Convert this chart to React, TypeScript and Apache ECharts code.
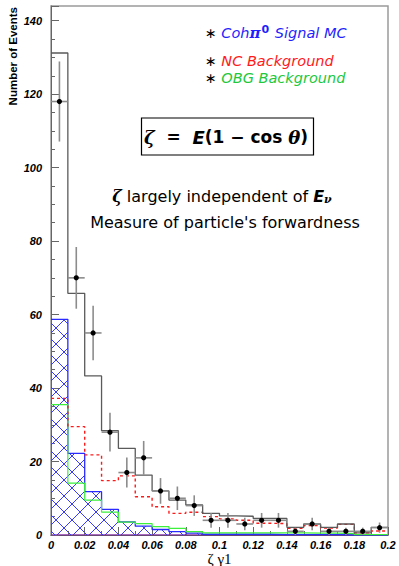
import React, { useEffect, useRef } from "react";
import * as echarts from "echarts";

// Bin edges of the zeta histogram (20 bins of 0.01)
const binEdges = [0, 0.01, 0.02, 0.03, 0.04, 0.05, 0.06, 0.07, 0.08, 0.09, 0.1, 0.11, 0.12, 0.13, 0.14, 0.15, 0.16, 0.17, 0.18, 0.19, 0.2];

// Data (black points with error bars)
const dataCounts = [118, 70, 55, 28, 17, 21, 12, 10, 8, 4, 4, 3, 4, 4, 1, 3, 1, 1, 1, 2];
const dataErrors = [10.9, 8.4, 7.4, 5.3, 4.1, 4.6, 3.5, 3.2, 2.8, 2, 2, 1.7, 2, 2, 1, 1.7, 1, 1, 1, 1.4];

// MC histograms
const totalMC = [131.2, 65.8, 43.3, 28.4, 23.6, 16.3, 12, 9.5, 8.2, 5.9, 5.2, 5.1, 4.5, 4.5, 2.1, 3, 2.1, 3, 0.6, 2.1];
const ncBackground = [37.2, 29.5, 21.8, 14.8, 16.1, 10.4, 7.7, 5.9, 6.2, 5, 4.4, 4, 3.2, 3.1, 1.8, 2.6, 1.9, 2.9, 0.6, 1.1];
const obgBackground = [35.5, 14.1, 9.5, 6.2, 3.5, 3.1, 2.3, 1.8, 0.9, 0.6, 0.6, 0.6, 0.6, 0.6, 0.6, 0.5, 0.5, 0.4, 0.1, 0.1];
const cohSignal = [58.7, 22.2, 11.8, 7, 3.6, 2.4, 1.5, 0.9, 0.5, 0.2, 0.2, 0.2, 0.2, 0.1, 0.1, 0.1, 0.1, 0, 0, 0];
const otherBackground = [0, 0, 0, 0, 0, 0, 0, 0, 0, 0, 0, 0, 0, 0, 0, 0, 0, 0, 0, 0];

const xTickLabels = ["0", "0.02", "0.04", "0.06", "0.08", "0.1", "0.12", "0.14", "0.16", "0.18", "0.2"];

function stepPoints(vals: number[]) {
  const pts: number[][] = vals.map((v, i) => [binEdges[i], v]);
  pts.push([binEdges[vals.length], vals[vals.length - 1]]);
  return pts;
}

const hatchSvg =
  "<svg xmlns='http://www.w3.org/2000/svg' width='16' height='16'>" +
  "<path d='M-1 -1L17 17M17 -1L-1 17' stroke='#3a3aff' stroke-width='1' fill='none'/></svg>";
const hatchUrl = "data:image/svg+xml;charset=utf-8," + encodeURIComponent(hatchSvg);

export default function App() {
  const ref = useRef<HTMLDivElement>(null);
  useEffect(() => {
    if (!ref.current) return;
    const chart = echarts.init(ref.current, undefined, { renderer: "svg" });
    const tickFont = {
      fontFamily: "Liberation Sans",
      fontStyle: "italic" as const,
      fontWeight: "bold" as const,
      fontSize: 11,
      color: "#000",
    };
    const option: any = {
      animation: false,
      backgroundColor: "#fff",
      grid: {
        left: 51,
        right: 11,
        top: 6,
        bottom: 31,
        outerBoundsMode: "none",
        containLabel: false,
        show: true,
        borderColor: "#9a9a9a",
        borderWidth: 1.5,
      },
      xAxis: {
        type: "value",
        min: 0,
        max: 0.2,
        interval: 0.02,
        axisLine: { show: true, onZero: false, lineStyle: { color: "#555", width: 1 } },
        axisTick: { show: true, inside: true, length: 8, lineStyle: { color: "#666" } },
        minorTick: { show: true, splitNumber: 2, length: 4, lineStyle: { color: "#666" } },
        splitLine: { show: false },
        axisLabel: {
          ...tickFont,
          margin: 4,
          formatter: (v: number) => xTickLabels[Math.round(v / 0.02)] ?? "",
        },
        name: "ζ γ1",
        nameLocation: "middle",
        nameGap: 16.5,
        nameMoveOverlap: false,
        nameTextStyle: {
          fontFamily: "Liberation Serif",
          fontSize: 15,
          color: "#000",
          verticalAlign: "top",
        },
      },
      yAxis: {
        type: "value",
        min: 0,
        max: 144,
        interval: 20,
        axisLine: { show: true, onZero: false, lineStyle: { color: "#666", width: 1 } },
        axisTick: { show: true, inside: true, length: 8, lineStyle: { color: "#666" } },
        minorTick: { show: true, splitNumber: 4, length: 4, lineStyle: { color: "#666" } },
        splitLine: { show: false },
        axisLabel: { ...tickFont, margin: 9, showMaxLabel: false },
      },
      graphic: [
        {
          type: "text",
          x: 13,
          y: 7,
          rotation: Math.PI / 2,
          style: {
            text: "Number of Events",
            fill: "#000",
            font: "bold 11.5px 'Liberation Sans'",
            align: "right",
            verticalAlign: "middle",
          },
        },
        {
          type: "text",
          x: 205,
          y: 33,
          style: {
            text: "{s|∗}{t| Coh}{p|π}{sup|0}{t| Signal MC}",
            align: "left",
            verticalAlign: "middle",
            rich: {
              s: { fontFamily: "DejaVu Sans", fontSize: 14, fill: "#000" },
              t: { fontFamily: "DejaVu Sans", fontStyle: "italic", fontSize: 14.5, fill: "#1f1fff" },
              p: { fontFamily: "DejaVu Serif", fontWeight: "bold", fontStyle: "italic", fontSize: 15, fill: "#1f1fff" },
              sup: { fontFamily: "DejaVu Sans", fontWeight: "bold", fontSize: 11, fill: "#1f1fff", verticalAlign: "top", padding: [0, 1, 8, 1] },
            },
          },
        },
        {
          type: "text",
          x: 205,
          y: 61,
          style: {
            text: "{s|∗}{t| NC Background}",
            align: "left",
            verticalAlign: "middle",
            rich: {
              s: { fontFamily: "DejaVu Sans", fontSize: 14, fill: "#000" },
              t: { fontFamily: "DejaVu Sans", fontStyle: "italic", fontSize: 14.5, fill: "#ff1a1a" },
            },
          },
        },
        {
          type: "text",
          x: 205,
          y: 78,
          style: {
            text: "{s|∗}{t| OBG Background}",
            align: "left",
            verticalAlign: "middle",
            rich: {
              s: { fontFamily: "DejaVu Sans", fontSize: 14, fill: "#000" },
              t: { fontFamily: "DejaVu Sans", fontStyle: "italic", fontSize: 14.5, fill: "#22c83c" },
            },
          },
        },
        {
          type: "rect",
          shape: { x: 141.5, y: 118, width: 172, height: 37 },
          style: { fill: "none", stroke: "#000", lineWidth: 1.2 },
        },
        {
          type: "text",
          x: 226,
          y: 137,
          style: {
            text: "{z|ζ}{n|  =  }{e|E}{n|(1 − cos }{z|θ}{n|)}",
            align: "center",
            verticalAlign: "middle",
            rich: {
              z: { fontFamily: "DejaVu Serif", fontStyle: "italic", fontWeight: "bold", fontSize: 18, fill: "#000" },
              e: { fontFamily: "DejaVu Sans", fontStyle: "italic", fontWeight: "bold", fontSize: 18, fill: "#000" },
              n: { fontFamily: "DejaVu Sans", fontWeight: "bold", fontSize: 17, fill: "#000" },
            },
          },
        },
        {
          type: "text",
          x: 222,
          y: 196,
          style: {
            text: "{z|ζ}{n| largely independent of }{e|E}{sub|ν}",
            align: "center",
            verticalAlign: "middle",
            rich: {
              z: { fontFamily: "DejaVu Serif", fontStyle: "italic", fontWeight: "bold", fontSize: 16, fill: "#000" },
              n: { fontFamily: "DejaVu Sans", fontSize: 16, fill: "#000" },
              e: { fontFamily: "DejaVu Sans", fontStyle: "italic", fontWeight: "bold", fontSize: 16, fill: "#000" },
              sub: { fontFamily: "DejaVu Serif", fontStyle: "italic", fontWeight: "bold", fontSize: 11, fill: "#000", verticalAlign: "bottom", padding: [6, 0, 0, 0] },
            },
          },
        },
        {
          type: "text",
          x: 225,
          y: 222,
          style: {
            text: "Measure of particle's forwardness",
            align: "center",
            verticalAlign: "middle",
            font: "16px 'DejaVu Sans'",
            fill: "#000",
          },
        },
      ],
      series: [
        {
          name: "Other",
          type: "line",
          step: "end",
          symbol: "none",
          data: stepPoints(otherBackground),
          lineStyle: { color: "#a020d0", width: 1.2 },
          z: 2,
        },
        {
          name: "Coh pi0 Signal MC",
          type: "line",
          step: "end",
          symbol: "none",
          data: stepPoints(cohSignal),
          lineStyle: { color: "#2a2aff", width: 1.3 },
          areaStyle: {
            origin: 0,
            opacity: 1,
            color: { image: hatchUrl, repeat: "repeat", imageWidth: 16, imageHeight: 16 },
          },
          z: 3,
        },
        {
          name: "OBG Background",
          type: "line",
          step: "end",
          symbol: "none",
          data: stepPoints(obgBackground),
          lineStyle: { color: "#3cf03c", width: 1.2 },
          z: 4,
        },
        {
          name: "NC Background",
          type: "line",
          step: "end",
          symbol: "none",
          data: stepPoints(ncBackground),
          lineStyle: { color: "#ff1a1a", width: 1.4, type: [3, 3] },
          z: 5,
        },
        {
          name: "Total MC",
          type: "line",
          step: "end",
          symbol: "none",
          data: stepPoints(totalMC),
          lineStyle: { color: "#5a5a5a", width: 1.3 },
          z: 6,
        },
        {
          name: "Data",
          type: "custom",
          z: 10,
          clip: false,
          encode: { x: 0, y: 1 },
          data: dataCounts.map((v, i) => [
            (binEdges[i] + binEdges[i + 1]) / 2,
            v,
            dataErrors[i],
            (binEdges[i + 1] - binEdges[i]) / 2,
          ]),
          renderItem: (params: any, api: any) => {
            const x = api.value(0);
            const y = api.value(1);
            const e = api.value(2);
            const hw = api.value(3);
            const c = api.coord([x, y]);
            const t = api.coord([x, y + e]);
            const b = api.coord([x, Math.max(0, y - e)]);
            const l = api.coord([x - hw, y]);
            const r = api.coord([x + hw, y]);
            const st = { stroke: "#8c8c8c", lineWidth: 1.6 };
            return {
              type: "group",
              children: [
                { type: "line", shape: { x1: t[0], y1: t[1], x2: b[0], y2: b[1] }, style: st },
                { type: "line", shape: { x1: l[0], y1: l[1], x2: r[0], y2: r[1] }, style: st },
                { type: "circle", shape: { cx: c[0], cy: c[1], r: 2.6 }, style: { fill: "#000" } },
              ],
            };
          },
        },
      ],
    };
    chart.setOption(option);
    return () => chart.dispose();
  }, []);
  return (
    <div
      ref={ref}
      style={{ position: "fixed", left: 0, top: 0, width: 399, height: 566, background: "#fff" }}
    />
  );
}
